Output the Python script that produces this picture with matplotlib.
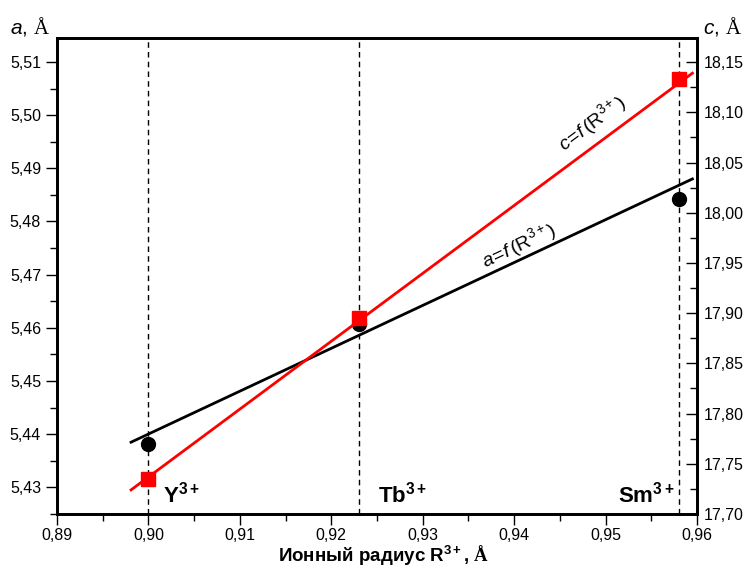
import matplotlib
matplotlib.use("Agg")
import matplotlib.pyplot as plt
from matplotlib.ticker import MultipleLocator, FuncFormatter
import numpy as np

plt.rcParams['font.family'] = ['Liberation Sans', 'DejaVu Sans']
plt.rcParams['mathtext.fontset'] = 'custom'
plt.rcParams['mathtext.rm'] = 'Liberation Sans'
plt.rcParams['mathtext.it'] = 'Liberation Sans:italic'
plt.rcParams['mathtext.bf'] = 'Liberation Sans:bold'
plt.rcParams['mathtext.tt'] = 'Liberation Serif'
plt.rcParams['mathtext.cal'] = 'Liberation Serif:bold'

# ионные радиусы R3+ и параметры решётки
ions = ['Y', 'Tb', 'Sm']
radius = [0.900, 0.923, 0.958]
a_vals = [5.4381, 5.4607, 5.4842]
c_vals = [17.735, 17.895, 18.133]

# концы линейных аппроксимаций
fit_r = [0.8981, 0.9595]
a_fit = [5.4385, 5.4880]
c_fit = [17.724, 18.139]

comma = FuncFormatter(lambda v, p: ('%.2f' % v).replace('.', ','))

dpi = 100
fig = plt.figure(figsize=(744 / dpi, 569 / dpi), dpi=dpi)
ax = fig.add_axes([57 / 744, 55 / 569, 640 / 744, 476 / 569])
ax2 = ax.twinx()

ax.set_xlim(0.89, 0.96)
ax.set_ylim(5.425, 5.5145)
ax2.set_ylim(17.70, 18.174)

for r in radius:
    ax.axvline(r, color='black', lw=1, linestyle=(0, (4, 3)), zorder=1)

ax.plot(fit_r, a_fit, color='black', lw=2, zorder=2)
ax.plot(radius, a_vals, 'o', color='black', markersize=10, zorder=3)
ax2.plot(fit_r, c_fit, color='#ff0000', lw=2, zorder=2)
ax2.plot(radius, c_vals, 's', color='#ff0000', markersize=9.5, zorder=3)

# ticks
ax.xaxis.set_major_locator(MultipleLocator(0.01))
ax.xaxis.set_minor_locator(MultipleLocator(0.005))
ax.yaxis.set_major_locator(MultipleLocator(0.01))
ax.yaxis.set_minor_locator(MultipleLocator(0.005))
ax2.yaxis.set_major_locator(MultipleLocator(0.05))
ax2.yaxis.set_minor_locator(MultipleLocator(0.025))
ax.xaxis.set_major_formatter(comma)
ax.yaxis.set_major_formatter(comma)
ax2.yaxis.set_major_formatter(comma)

ax.tick_params(which='major', direction='out', length=8, width=1, labelsize=11.5)
ax.tick_params(which='minor', direction='out', length=5, width=1)
ax.tick_params(axis='x', pad=2)
ax2.tick_params(which='major', direction='in', length=8, width=1, labelsize=11.5, pad=5)
ax2.tick_params(which='minor', direction='in', length=5, width=1)

for a_ in (ax, ax2):
    for s in a_.spines.values():
        s.set_linewidth(2)

# подписи ионов
for name, x0 in zip(ions, [0.9016, 0.9251, 0.9514]):
    ax.text(x0, 5.4272, r'$\mathbf{%s^{3+}}$' % name, fontsize=16,
            ha='left', va='baseline')

# подписи линий вдоль наклона
fig.canvas.draw()
def line_angle(axis, xs, ys):
    p = axis.transData.transform(np.column_stack([xs, ys]))
    return np.degrees(np.arctan2(p[1, 1] - p[0, 1], p[1, 0] - p[0, 0]))

ax2.text(0.9485, 18.089, r'$c\!=\!\mathit{f}\,(\mathrm{R}^{3+})$', fontsize=14,
         rotation=line_angle(ax2, fit_r, c_fit), ha='center', va='center',
         rotation_mode='anchor')
ax.text(0.9405, 5.4756, r'$a\!=\!\mathit{f}\,(\mathrm{R}^{3+})$', fontsize=14,
        rotation=line_angle(ax, fit_r, a_fit), ha='center', va='center',
        rotation_mode='anchor')

fig.text(10 / 744, 1 - 34 / 569, r'$\mathit{a}$, $\mathtt{Å}$', fontsize=15,
         ha='left', va='baseline')
fig.text(703 / 744, 1 - 34 / 569, r'$\mathit{c}$, $\mathtt{Å}$', fontsize=15,
         ha='left', va='baseline')
fig.text(384 / 744, 7 / 569, r'Ионный радиус $\mathbf{R^{3+}}$, $\mathcal{Å}$',
         fontsize=13.5, fontweight='bold', ha='center', va='baseline')

fig.savefig('out.png', dpi=dpi)
